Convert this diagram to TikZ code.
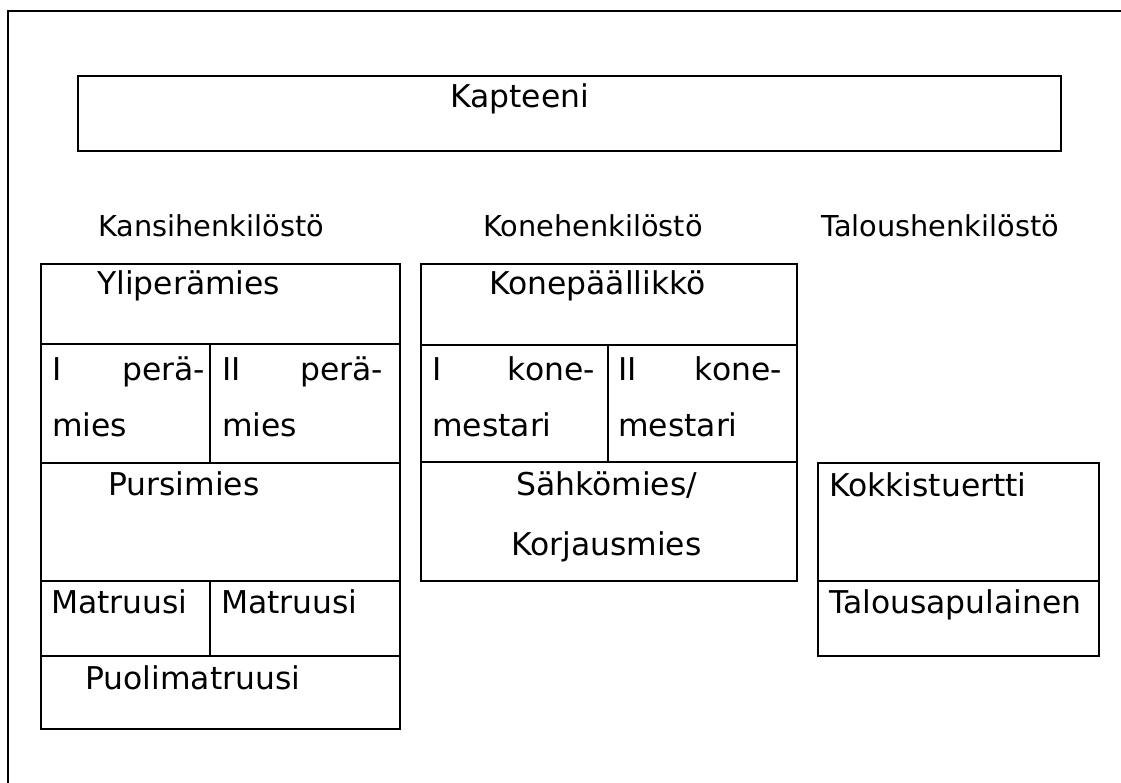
\documentclass[tikz,border=0pt]{standalone}
\usepackage{fontspec}
\setmainfont{DejaVu Sans}
\begin{document}
\begin{tikzpicture}[x=1pt,y=-1pt,
  frame/.style={line width=2pt},
  cell/.style={line width=1.3pt},
  body/.style={inner sep=0pt, anchor=base west, font=\fontsize{31.4}{36}\selectfont},
  bodyr/.style={body, anchor=base east},
  head/.style={inner sep=0pt, anchor=base west, font=\fontsize{28.8}{34}\selectfont}]
\useasboundingbox (0,0) rectangle (1121,783);
% outer frame (only left and top visible)
\draw[frame] (8,783) -- (8,11) -- (1121,11);
% Kapteeni box
\draw[frame] (78,76) rectangle (1061,151);
\node[body] (kapteeni) at (450,108) {Kapteeni};
% headings
\node[head] (kansi) at (98,237) {Kansihenkilöstö};
\node[head] (kone) at (483,237) {Konehenkilöstö};
\node[head] (talous) at (821,237) {Taloushenkilöstö};
% Kansihenkilöstö table
\draw[cell] (41,264) rectangle (400,729);
\draw[cell] (41,344) -- (400,344);
\draw[cell] (41,463) -- (400,463);
\draw[cell] (41,581) -- (400,581);
\draw[cell] (41,656) -- (400,656);
\draw[cell] (210,344) -- (210,463);
\draw[cell] (210,581) -- (210,656);
\node[body] (ylip) at (97,295) {Yliperämies};
\node[body] (p1a) at (52,380) {I};
\node[bodyr] (p1b) at (205,380) {perä-};
\node[body] (p1c) at (52,436) {mies};
\node[body] (p2a) at (222,380) {II};
\node[bodyr] (p2b) at (383,380) {perä-};
\node[body] (p2c) at (222,436) {mies};
\node[body] (purs) at (108,495) {Pursimies};
\node[body] (mat1) at (51,613) {Matruusi};
\node[body] (mat2) at (221,613) {Matruusi};
\node[body] (puol) at (85,689) {Puolimatruusi};
% Konehenkilöstö table
\draw[cell] (421,264) rectangle (797,581);
\draw[cell] (421,345) -- (797,345);
\draw[cell] (421,462) -- (797,462);
\draw[cell] (608,345) -- (608,462);
\node[body] (konep) at (489,295) {Konepäällikkö};
\node[body] (k1a) at (432,380) {I};
\node[bodyr] (k1b) at (595,380) {kone-};
\node[body] (k1c) at (432,436) {mestari};
\node[body] (k2a) at (618,380) {II};
\node[bodyr] (k2b) at (782,380) {kone-};
\node[body] (k2c) at (618,436) {mestari};
\node[body] (sahko) at (516,495) {Sähkömies/};
\node[body] (korj) at (511,555) {Korjausmies};
% Taloushenkilöstö table
\draw[cell] (818,463) rectangle (1099,656);
\draw[cell] (818,581) -- (1099,581);
\node[body] (kokki) at (829,496) {Kokkistuertti};
\node[body] (talap) at (829,613) {Talousapulainen};
\end{tikzpicture}
\end{document}
